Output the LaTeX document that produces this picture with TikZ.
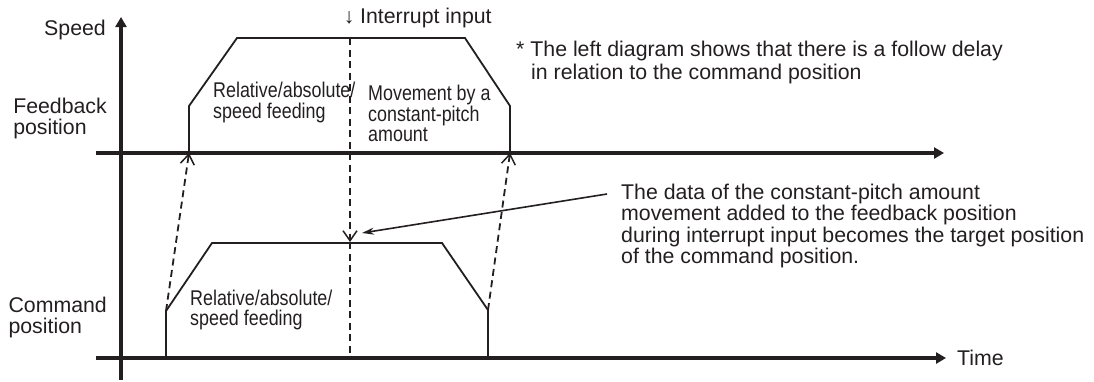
\documentclass[tikz,border=0pt]{standalone}
\usepackage{fontspec}
\setmainfont{Liberation Sans}
\newfontfamily\narrowsans[FakeStretch=0.84]{Liberation Sans}
\usetikzlibrary{arrows.meta}
\definecolor{ink}{RGB}{35,31,32}
\begin{document}
\begin{tikzpicture}[x=1pt,y=-1pt,
  axis/.style={draw=ink, line width=3.3pt, -{Triangle[length=10pt,width=11pt]}},
  curve/.style={draw=ink, line width=1.8pt, line join=miter},
  dashline/.style={draw=ink, line width=1.8pt, dash pattern=on 7pt off 4.5pt},
  follow/.style={dashline, -{Straight Barb[length=10pt,width=14pt,line width=1.5pt]}},
  pointer/.style={draw=ink, line width=1.6pt, -{Stealth[length=12pt,width=7pt]}},
  lbl/.style={inner sep=0pt, align=left, text=ink, font=\fontsize{21.3}{21}\selectfont},
  inlbl/.style={lbl, font=\narrowsans\fontsize{21.3}{20.5}\selectfont},
]
\useasboundingbox (0,0) rectangle (1094,381);

% axes
\coordinate (vbot) at (121,380);
\coordinate (vtop) at (121,17);
\coordinate (ustart) at (96,153);
\coordinate (uend) at (944,153);
\coordinate (lstart) at (96,358);
\coordinate (lend) at (946,358);
\draw[axis] (vbot) -- (vtop);
\draw[axis] (ustart) -- (uend);
\draw[axis] (lstart) -- (lend);

% feedback trapezoid
\coordinate (fa) at (189,153);
\coordinate (fb) at (189,106);
\coordinate (fc) at (237,38);
\coordinate (fd) at (465,38);
\coordinate (fe) at (510,106);
\coordinate (ff) at (510,153);
\draw[curve] (fa) -- (fb) -- (fc) -- (fd) -- (fe) -- (ff);

% command trapezoid
\coordinate (ca) at (166,358);
\coordinate (cb) at (166,311);
\coordinate (cc) at (212,243);
\coordinate (cd) at (442,243);
\coordinate (ce) at (488,310);
\coordinate (cf) at (488,358);
\draw[curve] (ca) -- (cb) -- (cc) -- (cd) -- (ce) -- (cf);

% follow arrows
\draw[follow] (cb) -- (fa);
\draw[follow] (ce) -- (ff);

% interrupt line
\coordinate (ia) at (350,38);
\coordinate (ib) at (350,242);
\coordinate (ic) at (350,355);
\draw[follow] (ia) -- (ib);
\draw[dashline] (ib) -- (ic);

% pointer
\coordinate (ps) at (607,194);
\coordinate (pe) at (362,233);
\draw[pointer] (ps) -- (pe);

% labels
\node[lbl, anchor=base west] (intr) at (343.5,23.5) {\makebox[11pt]{↓}\hspace{5.5pt}Interrupt input};
\node[lbl, anchor=east] (speed) at (106,30) {Speed};
\node[lbl, anchor=east] (fbpos) at (107,118.5) {Feedback\\position};
\node[lbl, anchor=east] (cmdpos) at (107,317) {Command\\position};
\node[inlbl, anchor=west] (rel1) at (213,102.5) {Relative/absolute/\\speed feeding};
\node[inlbl, anchor=west] (mov) at (368,113.5) {Movement by a\\constant-pitch\\amount};
\node[inlbl, anchor=west] (rel2) at (190,310) {Relative/absolute/\\speed feeding};
\node[lbl, anchor=west, font=\fontsize{21.3}{23}\selectfont] (delay) at (516,62.5) {* The left diagram shows that there is a follow delay\\\hspace*{15pt}in relation to the command position};
\node[lbl, anchor=west, font=\fontsize{21.3}{21.5}\selectfont] (data) at (621,226) {The data of the constant-pitch amount\\movement added to the feedback position\\during interrupt input becomes the target position\\of the command position.};
\node[lbl, anchor=west] (time) at (957,358) {Time};
\end{tikzpicture}
\end{document}
